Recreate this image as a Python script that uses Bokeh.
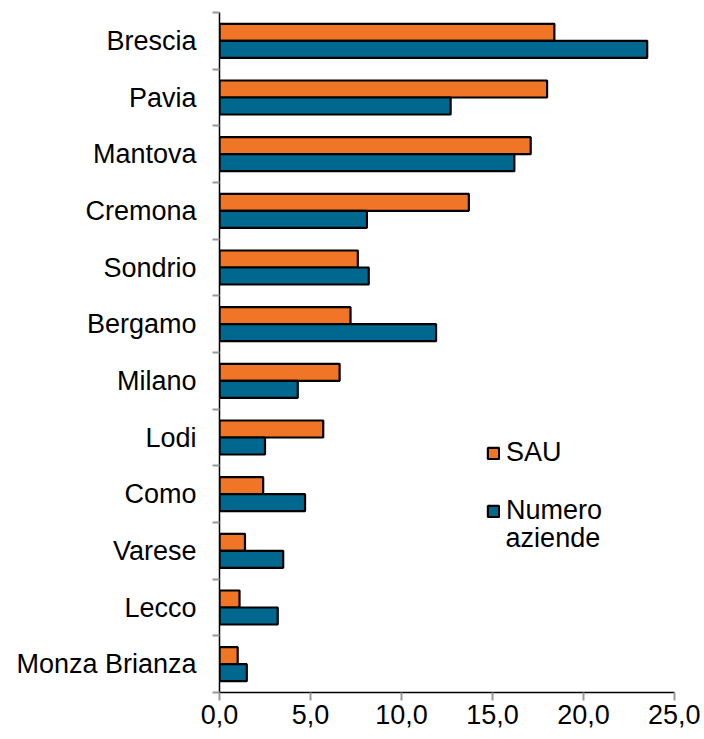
import numpy as np
from bokeh.plotting import figure
from bokeh.models import (ColumnDataSource, Range1d, LinearAxis, FixedTicker, Legend, LegendItem, Label)
from bokeh.embed import file_html
from bokeh.resources import INLINE

# ---- data (top to bottom in the chart) ----
provinces = ["Brescia", "Pavia", "Mantova", "Cremona", "Sondrio", "Bergamo",
             "Milano", "Lodi", "Como", "Varese", "Lecco", "Monza Brianza"]
sau = [18.4, 18.0, 17.1, 13.7, 7.6, 7.2, 6.6, 5.7, 2.4, 1.4, 1.1, 1.0]
numero_aziende = [23.5, 12.7, 16.2, 8.1, 8.2, 11.9, 4.3, 2.5, 4.7, 3.5, 3.2, 1.5]
series_names = ["SAU", "Numero", "aziende"]
x_ticks = [0, 5, 10, 15, 20, 25]
x_tick_labels = ["0,0", "5,0", "10,0", "15,0", "20,0", "25,0"]

ORANGE = "#F07527"
BLUE = "#00688F"
FONT = "Liberation Sans"
FS = "27px"

n = len(provinces)
centers = (n - 1 - np.arange(n)) + 0.5   # band centres, first province at top
src = ColumnDataSource(dict(prov=provinces, sau=sau, naz=numero_aziende,
                            y_sau=centers + 0.15, y_naz=centers - 0.15))

p = figure(width=700, height=731, y_range=Range1d(0, n),
           x_range=Range1d(0, 25), output_backend="svg", toolbar_location=None,
           x_axis_location=None, y_axis_location=None,
           min_border_left=219, min_border_right=26, min_border_top=12, min_border_bottom=39)
p.outline_line_color = None
p.xgrid.visible = False
p.ygrid.visible = False

r_sau = p.hbar(y="y_sau", right="sau", left=0, height=0.3,
               source=src, fill_color=ORANGE, line_color="black", line_width=2.2)
r_naz = p.hbar(y="y_naz", right="naz", left=0, height=0.3,
               source=src, fill_color=BLUE, line_color="black", line_width=2.2)

# bottom axis
xa = LinearAxis(ticker=FixedTicker(ticks=x_ticks),
                major_label_overrides={t: l for t, l in zip(x_ticks, x_tick_labels)})
xa.axis_line_color = "black"
xa.axis_line_width = 1.5
xa.major_tick_line_color = "#999999"
xa.major_tick_line_width = 2
xa.major_tick_out = 8
xa.major_tick_in = 0
xa.minor_tick_line_color = None
xa.major_label_text_font = FONT
xa.major_label_text_font_size = FS
xa.major_label_text_color = "black"
xa.major_label_standoff = 4
p.add_layout(xa, "below")

# left axis: labels at band centres, ticks (minor) at band boundaries
label_ticks = [float(c) for c in centers]
ya = LinearAxis(ticker=FixedTicker(ticks=label_ticks, minor_ticks=list(range(n + 1))),
                major_label_overrides={c: name for c, name in zip(label_ticks, provinces)})
ya.axis_line_color = "black"
ya.axis_line_width = 1.5
ya.major_tick_line_color = None
ya.major_tick_out = 0
ya.major_tick_in = 0
ya.minor_tick_line_color = "#999999"
ya.minor_tick_line_width = 2
ya.minor_tick_out = 7
ya.minor_tick_in = 0
ya.major_label_text_font = FONT
ya.major_label_text_font_size = FS
ya.major_label_text_color = "black"
ya.major_label_standoff = 16
p.add_layout(ya, "left")

legend = Legend(items=[LegendItem(label=series_names[0], renderers=[r_sau]),
                       LegendItem(label=series_names[1], renderers=[r_naz])],
                location=(267, 166), orientation="vertical",
                glyph_width=14, glyph_height=14, label_standoff=6, spacing=27,
                padding=0, margin=0, border_line_color=None, background_fill_alpha=0,
                label_text_font=FONT, label_text_font_size=FS, label_text_color="black")
p.add_layout(legend, "center")

# second line of the "Numero aziende" legend label
p.add_layout(Label(x=15.72, y=2.72, text=series_names[2], text_font=FONT, text_font_size=FS,
                   text_color="black", text_baseline="middle", text_align="left"))

open("out.html", "w").write(file_html(p, INLINE))
